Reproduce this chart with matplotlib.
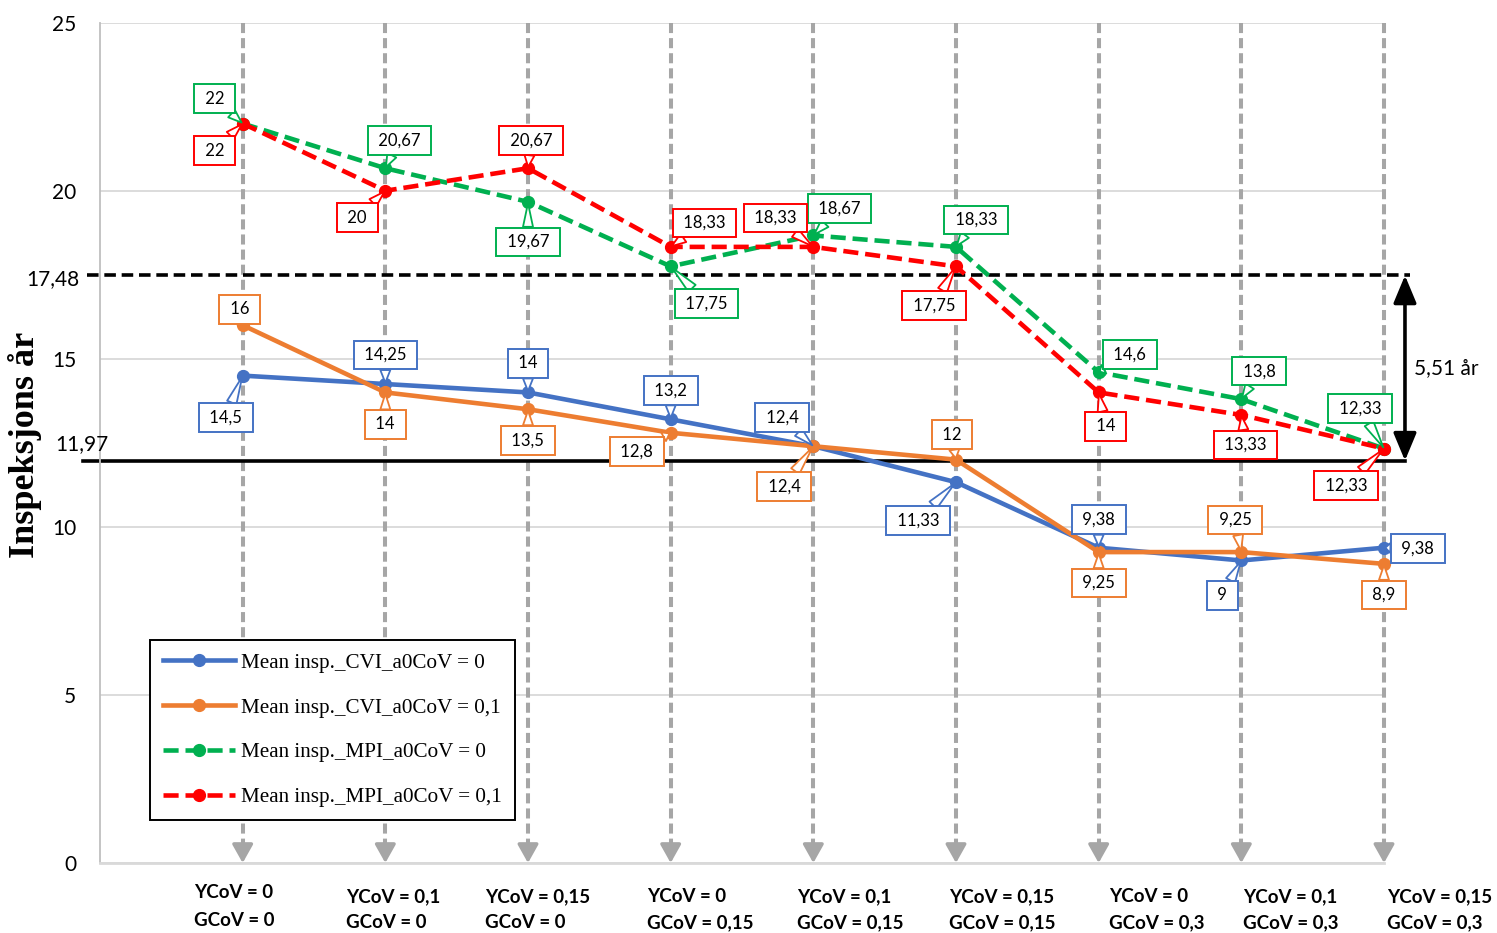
import matplotlib
matplotlib.use("Agg")
import matplotlib.pyplot as plt
from matplotlib.transforms import blended_transform_factory

# ---- data -------------------------------------------------------------
ycov = ["0", "0,1", "0,15", "0", "0,1", "0,15", "0", "0,1", "0,15"]
gcov = ["0", "0", "0", "0,15", "0,15", "0,15", "0,3", "0,3", "0,3"]

cvi_a0cov_0 = [14.5, 14.25, 14, 13.2, 12.4, 11.33, 9.38, 9, 9.38]
cvi_a0cov_01 = [16, 14, 13.5, 12.8, 12.4, 12, 9.25, 9.25, 8.9]
mpi_a0cov_0 = [22, 20.67, 19.67, 17.75, 18.67, 18.33, 14.6, 13.8, 12.33]
mpi_a0cov_01 = [22, 20, 20.67, 18.33, 18.33, 17.75, 14, 13.33, 12.33]

series_names = [
    "Mean insp._CVI_a0CoV = 0",
    "Mean insp._CVI_a0CoV = 0,1",
    "Mean insp._MPI_a0CoV = 0",
    "Mean insp._MPI_a0CoV = 0,1",
]

upper_ref = 17.48
lower_ref = 11.97

y_ticks = [0, 5, 10, 15, 20, 25]

# ---- styling / layout ---------------------------------------------------
colors = ["#4472C4", "#ED7D31", "#00B050", "#FF0000"]
dashed = [False, False, True, True]
grey = "#A6A6A6"
label_font = "Lato"

# callout offsets (pixels, x right / y up) for each data label
label_offsets = [
    [(-17, -42), (0, 29), (0, 29), (0, 29), (-31, 29), (-38, -38), (0, 28), (-19, -35), (34, -1)],
    [(-3, 16), (0, -32), (0, -31), (-34, -19), (-29, -40), (-4, 25), (0, -31), (-6, 32), (0, -31)],
    [(-28, 25), (14, 28), (0, -40), (36, -37), (26, 27), (20, 27), (31, 18), (18, 28), (-24, 40)],
    [(-28, -27), (-28, -27), (3, 28), (34, 24), (-38, 29), (-22, -39), (7, -34), (4, -30), (-38, -37)],
]

# left edge of each category label block (data x units)
cat_label_x = [-0.343, 0.722, 1.702, 2.837, 3.888, 4.953, 6.074, 7.012, 8.021]


def fmt(v):
    return f"{v:g}".replace(".", ",")


fig = plt.figure(figsize=(14.97, 9.33), dpi=100)
ax = fig.add_axes([100 / 1497, 1 - 863 / 933, (1384 - 100) / 1497, (863 - 22.7) / 933])

n = len(ycov)
xs = list(range(n))
ax.set_xlim(-1, n - 1)
ax.set_ylim(0, 25)

# horizontal grid
ax.set_yticks(y_ticks)
ax.set_yticklabels([str(t) for t in y_ticks], fontfamily=label_font, fontsize=15)
ax.yaxis.grid(True, color="#D9D9D9", lw=1.3, zorder=0)
ax.set_axisbelow(True)
ax.tick_params(axis="y", length=0, pad=17)
ax.set_xticks([])
for s in ["top", "right"]:
    ax.spines[s].set_visible(False)
ax.spines["left"].set_color("#BFBFBF")
ax.spines["left"].set_linewidth(1.3)
ax.spines["bottom"].set_color("#D9D9D9")
ax.spines["bottom"].set_linewidth(2)

# vertical dashed drop lines with arrowheads
for x in xs:
    ax.plot([x, x], [25, 0.45], color=grey, lw=2.9, dashes=(2.5, 1.25),
            clip_on=False, zorder=1)
    ax.annotate("", xy=(x, 0), xytext=(x, 0.6),
                arrowprops=dict(arrowstyle="-|>,head_length=0.8,head_width=0.45",
                                color=grey, lw=2.5, mutation_scale=14,
                                shrinkA=0, shrinkB=0),
                annotation_clip=False, zorder=1)

# reference lines
ax.plot([-1.09, 8.18], [upper_ref, upper_ref], color="black", lw=2.6,
        dashes=(3.2, 1.6), clip_on=False, zorder=2)
ax.plot([-1.12, 8.15], [lower_ref, lower_ref], color="black", lw=2.6,
        clip_on=False, zorder=2)

# series
series = [cvi_a0cov_0, cvi_a0cov_01, mpi_a0cov_0, mpi_a0cov_01]
handles = []
for vals, name, c, d in zip(series, series_names, colors, dashed):
    kw = dict(dashes=(3.3, 1.5)) if d else {}
    (h,) = ax.plot(xs, vals, color=c, lw=3.3, marker="o", markersize=8.5,
                   label=name, zorder=4, clip_on=False, **kw)
    handles.append(h)

# data callouts
for vals, offs, c in zip(series, label_offsets, colors):
    for x, v, (dx, dy) in zip(xs, vals, offs):
        ax.annotate(" " + fmt(v) + " ", xy=(x, v), xytext=(dx, dy),
                    textcoords="offset pixels", ha="center", va="center",
                    fontfamily=label_font, fontsize=12, color="black",
                    bbox=dict(boxstyle="square,pad=0.38", fc="white", ec=c, lw=1.4),
                    arrowprops=dict(arrowstyle="wedge,tail_width=0.6,shrink_factor=0.5",
                                    fc="white", ec=c, lw=1.3, shrinkA=0, shrinkB=1),
                    annotation_clip=False, zorder=10)

# reference values as text
ax.annotate(fmt(upper_ref), xy=(-1.142, upper_ref), xytext=(0, -4),
            textcoords="offset pixels", ha="right", va="center",
            fontfamily=label_font, fontsize=15, annotation_clip=False)
ax.annotate(fmt(lower_ref), xy=(-1.317, lower_ref), xytext=(0, 17),
            textcoords="offset pixels", ha="left", va="center",
            fontfamily=label_font, fontsize=15, annotation_clip=False)

# difference arrow
ax.annotate("", xy=(8.147, lower_ref), xytext=(8.147, upper_ref),
            arrowprops=dict(arrowstyle="<|-|>,head_length=1.2,head_width=0.5",
                            color="black", lw=2.6, mutation_scale=14,
                            shrinkA=0, shrinkB=0),
            annotation_clip=False, zorder=5)
ax.text(8.21, (upper_ref + lower_ref) / 2, fmt(round(upper_ref - lower_ref, 2)) + " år",
        ha="left", va="center", fontfamily=label_font, fontsize=15, clip_on=False)

# category labels (two lines, left aligned)
tr = blended_transform_factory(ax.transData, fig.transFigure)
for i, (x, yc, gc) in enumerate(zip(cat_label_x, ycov, gcov)):
    y1 = 893 if i == 0 else 897
    y2 = 920 if i == 0 else 923
    ax.text(x, 1 - y1 / 933, f"YCoV = {yc}", transform=tr, ha="left", va="center",
            fontfamily=label_font, fontweight="bold", fontsize=13.5, clip_on=False)
    ax.text(x, 1 - y2 / 933, f"GCoV = {gc}", transform=tr, ha="left", va="center",
            fontfamily=label_font, fontweight="bold", fontsize=13.5, clip_on=False)

# y axis title
fig.text(25 / 1497, 1 - 445 / 933, "Inspeksjons år", rotation=90, ha="center",
         va="center", fontfamily="Liberation Serif", fontweight="bold", fontsize=26)

# legend
leg = ax.legend(handles=handles, loc="upper left",
                bbox_to_anchor=(150 / 1497, 1 - 640 / 933),
                bbox_transform=fig.transFigure, borderaxespad=0,
                prop=dict(family="Liberation Serif", size=15.2),
                frameon=True, fancybox=False, framealpha=1, edgecolor="black",
                handlelength=3.4, handletextpad=0.3, labelspacing=1.18,
                borderpad=0.62)
leg.get_frame().set_linewidth(1.4)
leg.set_zorder(20)

fig.savefig("out.png", dpi=100)
